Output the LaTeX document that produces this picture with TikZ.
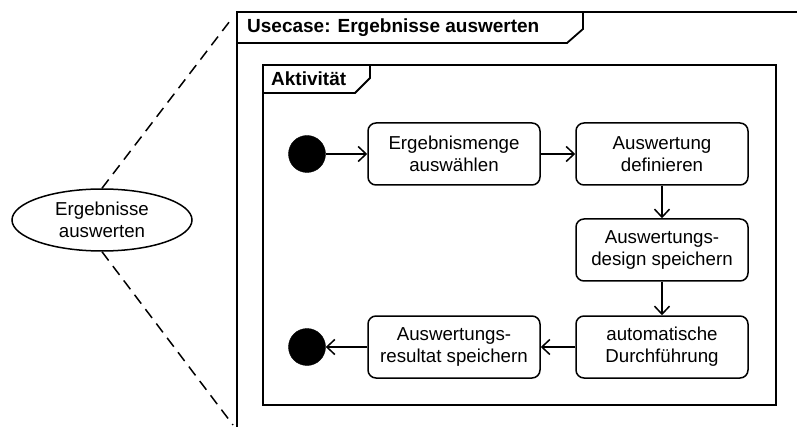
\documentclass[tikz,border=0pt]{standalone}
\usepackage{fontspec}
\setmainfont{Liberation Sans}
\usetikzlibrary{shapes.geometric,arrows.meta}
\begin{document}
\begin{tikzpicture}[x=1pt,y=-1pt,
  every node/.style={font=\fontsize{18.7}{22}\selectfont},
  act/.style={draw,line width=1.5pt,rounded corners=8pt,minimum width=172pt,minimum height=62pt,align=center,inner sep=2pt},
  dot/.style={circle,fill=black,draw=black,minimum size=37pt,inner sep=0pt},
  uc/.style={draw,ellipse,line width=1.5pt,minimum width=180pt,minimum height=62pt,inner sep=0pt,align=center},
  flow/.style={line width=1.5pt,-{Straight Barb[length=8pt,width=15pt,line width=1.5pt]}},
  frame/.style={line width=1.8pt},
  dashline/.style={line width=1.5pt,dash pattern=on 11pt off 7pt},
  title/.style={anchor=west,font=\fontsize{19}{22}\selectfont\bfseries,inner sep=0pt}]
\useasboundingbox (0,0) rectangle (797,427);
% outer frame
\draw[frame] (237,427) -- (237,12) -- (797,12);
\draw[frame] (237,43) -- (567,43) -- (583,29) -- (583,12);
\node[title] (uct) at (247,27.5) {Usecase: Ergebnisse auswerten};
% inner frame
\draw[frame] (263,65) rectangle (776,405);
\draw[frame] (263,93) -- (355,93) -- (370,78) -- (370,65);
\node[title] (akt) at (271,79) {Aktivität};
% use case ellipse and dashed lines
\node[uc] (e) at (102,220) {Ergebnisse\\auswerten};
\coordinate (t) at (233,17);
\coordinate (b) at (233,425);
\draw[dashline] (e.north) -- (t);
\draw[dashline] (e.south) -- (b);
% activity
\node[dot] (start) at (307,154) {};
\node[act] (a1) at (454,154) {Ergebnismenge\\auswählen};
\node[act] (a2) at (662,154) {Auswertung\\definieren};
\node[act] (a3) at (662,250) {Auswertungs-\\design speichern};
\node[act] (a4) at (662,347) {automatische\\Durchführung};
\node[act] (a5) at (454,347) {Auswertungs-\\resultat speichern};
\node[dot] (end) at (307,347) {};
\draw[flow] (start) -- (a1);
\draw[flow] (a1) -- (a2);
\draw[flow] (a2) -- (a3);
\draw[flow] (a3) -- (a4);
\draw[flow] (a4) -- (a5);
\draw[flow] (a5) -- (end);
\end{tikzpicture}
\end{document}
